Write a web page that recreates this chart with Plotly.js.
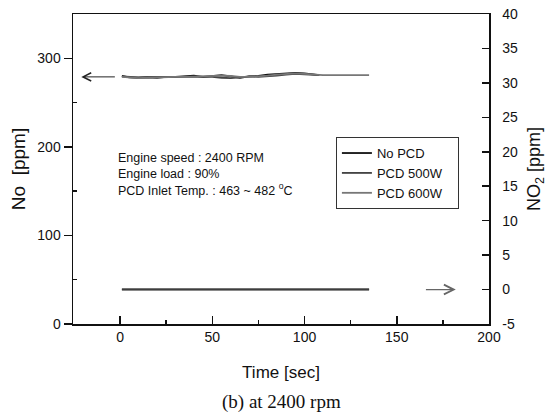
<!DOCTYPE html>
<html><head><meta charset="utf-8">
<script src="https://cdn.plot.ly/plotly-3.0.1.min.js"></script>
<style>body{margin:0;background:#fff}#chart{width:556px;height:415px}</style>
</head><body><div id="chart"></div>
<script>
const timeA = [1,5,10,15,20,25,30,35,40,45,50,55,60,65,70,75,80,85,90,95,100,105,108];
const timeLong = [1,5,10,15,20,25,30,35,40,45,50,55,60,65,70,75,80,85,90,95,100,105,110,115,120,125,130,135];
const noNoPCD = [280,278.5,278,278.5,278,279,279,279.5,280.5,279,280,281,279.5,278,279.5,280,281.5,282,283,283.5,283,282,281];
const no500W  = [279.5,279,278.5,279,279,279,279.5,279.5,279,279.5,279,278,277.5,278.5,279.5,279,279.5,280.5,281.5,282.5,282,281.5,281];
const no600W  = [279,278,277.5,278,278.5,278.5,279,279,279.5,279.5,280,280.5,280,279,279,279.5,280.5,281.5,282.5,283,282.5,281.5,281,281,281,281,281,281];
const no2NoPCD = [0,0,0,0,0,0,0,0,0,0,0,0,0,0,0,0,0,0,0,0,0,0,0,0,0,0,0,0];
const no2500W  = [0.1,0.1,0.1,0.1,0.1,0.1,0.1,0.1,0.1,0.1,0.1,0.1,0.1,0.1,0.1,0.1,0.1,0.1,0.1,0.1,0.1,0.1,0.1,0.1,0.1,0.1,0.1,0.1];
const no2600W  = [-0.1,-0.1,-0.1,-0.1,-0.1,-0.1,-0.1,-0.1,-0.1,-0.1,-0.1,-0.1,-0.1,-0.1,-0.1,-0.1,-0.1,-0.1,-0.1,-0.1,-0.1,-0.1,-0.1,-0.1,-0.1,-0.1,-0.1,-0.1];
const seriesNames = ['No PCD','PCD 500W','PCD 600W'];
const no2TickVals = [-5,0,5,10,15,20,25,30,35,40];
const no2TickText = ['-5','0','5','10','15','20','25','30','35','40'];
const leftArrow = {x0:-2, x1:-21, y:279};
const rightArrow = {x0:165, x1:182, y:0};

const F = '"Liberation Sans", Arial, sans-serif';
const colors = ['#111111','#444444','#777777'];
const pad = '\u00a0\u00a0\u00a0';
const traces = [
  {x: timeA, y: noNoPCD, name: seriesNames[0], mode:'lines', line:{color:colors[0], width:1.8}},
  {x: timeA, y: no500W, name: seriesNames[1], mode:'lines', line:{color:colors[1], width:1.8}},
  {x: timeLong, y: no600W, name: seriesNames[2] + pad, mode:'lines', line:{color:colors[2], width:1.8}},
  {x: timeLong, y: no2NoPCD, yaxis:'y2', mode:'lines', showlegend:false, line:{color:colors[0], width:1.2}},
  {x: timeLong, y: no2500W, yaxis:'y2', mode:'lines', showlegend:false, line:{color:colors[1], width:1.2}},
  {x: timeLong, y: no2600W, yaxis:'y2', mode:'lines', showlegend:false, line:{color:colors[2], width:1.2}}
];
const layout = {
  width:556, height:415,
  margin:{l:73, r:67, t:14, b:91},
  paper_bgcolor:'#fff', plot_bgcolor:'#fff',
  font:{family:F, color:'#111', size:14},
  showlegend:true,
  legend:{x:0.632, y:0.603, xanchor:'left', yanchor:'top', bgcolor:'#fff', bordercolor:'#333', borderwidth:1,
          font:{family:F, size:13, color:'#111'}, tracegroupgap:0, itemwidth:30},
  xaxis:{range:[-25.5,200], tickvals:[0,50,100,150,200], ticks:'inside', ticklen:8, tickwidth:1.5, tickcolor:'#111',
         minor:{tickvals:[25,75,125,175], ticks:'inside', ticklen:4, tickwidth:1.5, tickcolor:'#111'},
         showline:true, linecolor:'#111', linewidth:1.5, mirror:true, showgrid:false, zeroline:false,
         tickfont:{family:F, size:14}, title:{text:'Time [sec]', font:{family:F, size:17}, standoff:22}},
  yaxis:{range:[0,350], tickvals:[0,100,200,300], ticks:'outside', ticklen:8, tickwidth:1.5, tickcolor:'#111',
         minor:{tickvals:[50,150,250], ticks:'inside', ticklen:4, tickwidth:1.5, tickcolor:'#111'},
         showline:true, linecolor:'#111', linewidth:1.5, showgrid:false, zeroline:false,
         tickfont:{family:F, size:14}, title:{text:'No  [ppm]', font:{family:F, size:19}, standoff:6}},
  yaxis2:{range:[-5,40], overlaying:'y', side:'right', tickvals:no2TickVals, ticktext:no2TickText, ticks:'inside', ticklen:7, tickwidth:1.5, tickcolor:'#111',
         showline:true, linecolor:'#111', linewidth:1.5, showgrid:false, zeroline:false, ticklabelstandoff:9,
         tickfont:{family:F, size:14}, title:{text:'NO<sub>2</sub> [ppm]', font:{family:F, size:18}, standoff:10}},
  annotations:[
    {xref:'x', yref:'y', x:leftArrow.x1, y:leftArrow.y, axref:'x', ayref:'y', ax:leftArrow.x0, ay:leftArrow.y,
     showarrow:true, arrowhead:5, arrowsize:1.6, arrowwidth:1, arrowcolor:'#222', text:''},
    {xref:'x', yref:'y2', x:rightArrow.x1, y:rightArrow.y, axref:'x', ayref:'y2', ax:rightArrow.x0, ay:rightArrow.y,
     showarrow:true, arrowhead:5, arrowsize:1.6, arrowwidth:1.2, arrowcolor:'#666', text:''},
    {xref:'x', yref:'y', x:-2, y:198, xanchor:'left', yanchor:'top', align:'left', showarrow:false,
     font:{family:F, size:12.5, color:'#111'},
     text:'Engine speed : 2400 RPM<br>Engine load : 90%<br>PCD Inlet Temp. : 463 ~ 482 <sup>o</sup>C'},
    {xref:'paper', yref:'paper', x:0.5, y:-0.252, xanchor:'center', yanchor:'middle', showarrow:false,
     font:{family:'"Liberation Serif", "Times New Roman", serif', size:19, color:'#111'}, text:'(b) at 2400 rpm'}
  ]
};
Plotly.newPlot('chart', traces, layout, {staticPlot:true, displayModeBar:false});
</script></body></html>
